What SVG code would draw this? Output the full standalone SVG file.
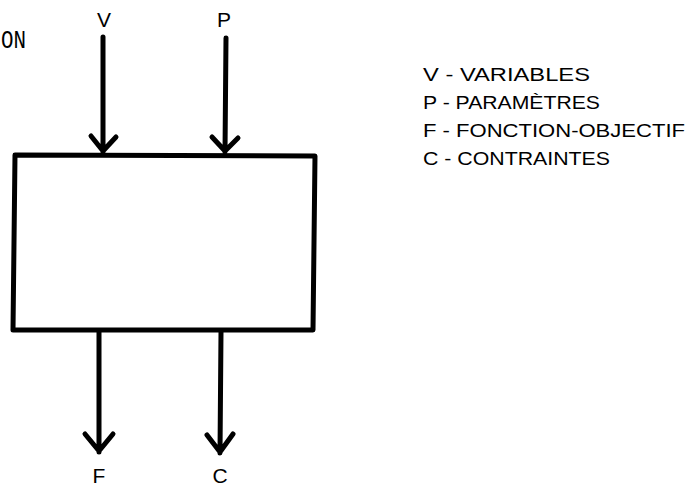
<svg xmlns="http://www.w3.org/2000/svg" width="695" height="487" viewBox="0 0 695 487">
<style>
.ln{stroke:#000;stroke-width:5;fill:none;stroke-linecap:round;stroke-linejoin:round}
.lbl{font-family:"Liberation Sans",sans-serif;font-size:21px;fill:#000}
.leg{font-family:"Liberation Sans",sans-serif;font-size:19px;fill:#000}
.mono{font-family:"Liberation Mono",monospace;font-size:25px;fill:#000}
</style>
<rect width="695" height="487" fill="#fff"/>
<text class="mono" x="1" y="48" textLength="25" lengthAdjust="spacingAndGlyphs">ON</text>
<g id="box">
<path class="ln" d="M15,155 L315,156 L313,330 L13,330 Z"/>
</g>
<g id="labels">
<text class="lbl" x="104" y="27" text-anchor="middle">V</text>
<text class="lbl" x="224" y="27" text-anchor="middle">P</text>
<text class="lbl" x="99" y="483" text-anchor="middle">F</text>
<text class="lbl" x="220" y="483" text-anchor="middle">C</text>
</g>
<g id="connectors">
<path class="ln" d="M103,37 L103,152 M91,136 L103,151 L116,137"/>
<path class="ln" d="M226,38 L225,152 M212,137 L225,151 L238,138"/>
<path class="ln" d="M99,332 L99,452 M85,434 L99,451 L113,434"/>
<path class="ln" d="M221,332 L220,453 M207,435 L220,452 L233,434"/>
</g>
<g id="legend">
<text class="leg" x="423" y="81" textLength="167" lengthAdjust="spacingAndGlyphs">V - VARIABLES</text>
<text class="leg" x="423" y="109" textLength="177" lengthAdjust="spacingAndGlyphs">P - PARAMÈTRES</text>
<text class="leg" x="423" y="137" textLength="262" lengthAdjust="spacingAndGlyphs">F - FONCTION-OBJECTIF</text>
<text class="leg" x="423" y="165" textLength="187" lengthAdjust="spacingAndGlyphs">C - CONTRAINTES</text>
</g>
</svg>
